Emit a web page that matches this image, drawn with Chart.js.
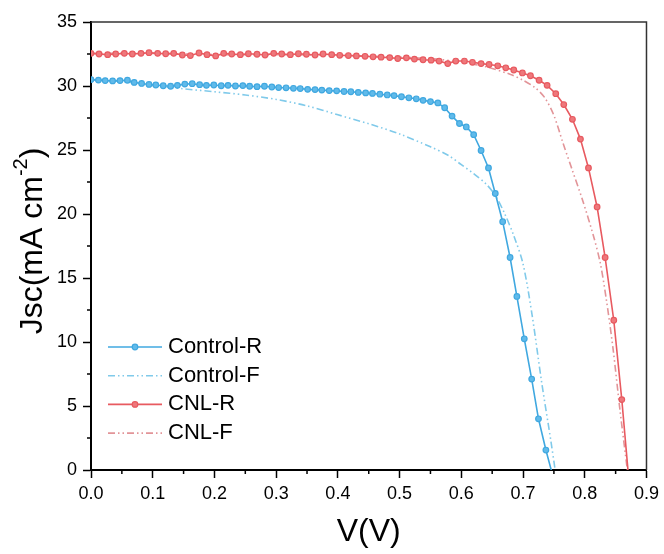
<!DOCTYPE html>
<html>
<head>
<meta charset="utf-8">
<script src="https://cdn.jsdelivr.net/npm/chart.js@4.4.0/dist/chart.umd.min.js"></script>
<style>
  body { margin: 0; background: #fff; }
  #wrap { width: 664px; height: 554px; }
</style>
</head>
<body>
<div id="wrap"><canvas id="ivChart"></canvas></div>
<script>
// J-V curves
const seriesNames = ['Control-R', 'Control-F', 'CNL-R', 'CNL-F'];

const vControlR = [0.000, 0.012, 0.023, 0.035, 0.047, 0.059, 0.070, 0.082, 0.094, 0.105,
  0.117, 0.129, 0.140, 0.152, 0.164, 0.176, 0.187, 0.199, 0.211, 0.222,
  0.234, 0.246, 0.257, 0.269, 0.281, 0.293, 0.304, 0.316, 0.328, 0.339,
  0.351, 0.363, 0.374, 0.386, 0.398, 0.410, 0.421, 0.433, 0.445, 0.456,
  0.468, 0.480, 0.491, 0.503, 0.515, 0.527, 0.538, 0.550, 0.562, 0.573,
  0.585, 0.597, 0.608, 0.620, 0.632, 0.644, 0.655, 0.667, 0.679, 0.690,
  0.702, 0.714, 0.725, 0.737, 0.749];
const jControlR = [30.50, 30.46, 30.42, 30.40, 30.42, 30.45, 30.28, 30.20, 30.12, 30.08,
  30.02, 29.98, 30.05, 30.15, 30.18, 30.10, 30.05, 30.08, 30.02, 30.05,
  30.00, 30.03, 29.98, 29.95, 29.98, 29.92, 29.88, 29.86, 29.82, 29.80,
  29.74, 29.72, 29.68, 29.64, 29.62, 29.57, 29.55, 29.50, 29.46, 29.42,
  29.36, 29.30, 29.25, 29.16, 29.08, 29.00, 28.88, 28.78, 28.68, 28.30,
  27.65, 27.07, 26.80, 26.20, 24.96, 23.60, 21.60, 19.40, 16.60, 13.56,
  10.25, 7.10, 4.00, 1.56, -0.60];

const vControlF = [0.000, 0.050, 0.100, 0.150, 0.200, 0.250, 0.300, 0.350, 0.400, 0.450,
  0.500, 0.550, 0.580, 0.600, 0.620, 0.640, 0.655, 0.670, 0.685, 0.700,
  0.715, 0.730, 0.745, 0.752];
const jControlF = [30.50, 30.35, 30.05, 29.78, 29.55, 29.30, 28.95, 28.45, 27.75, 27.05,
  26.25, 25.25, 24.55, 23.85, 23.15, 22.35, 21.45, 20.05, 18.30, 16.10,
  12.00, 6.90, 2.30, 0.00];

const vCnlR = [0.000, 0.013, 0.027, 0.040, 0.054, 0.067, 0.081, 0.094, 0.108, 0.121,
  0.134, 0.148, 0.161, 0.175, 0.188, 0.202, 0.215, 0.228, 0.242, 0.255,
  0.269, 0.282, 0.296, 0.309, 0.323, 0.336, 0.349, 0.363, 0.376, 0.390,
  0.403, 0.417, 0.430, 0.444, 0.457, 0.470, 0.484, 0.497, 0.511, 0.524,
  0.538, 0.551, 0.564, 0.578, 0.591, 0.605, 0.618, 0.632, 0.645, 0.659,
  0.672, 0.685, 0.699, 0.712, 0.726, 0.739, 0.753, 0.766, 0.780, 0.793,
  0.806, 0.820, 0.833, 0.847, 0.860, 0.874];
const jCnlR = [32.55, 32.50, 32.45, 32.50, 32.55, 32.50, 32.55, 32.60, 32.55, 32.52,
  32.55, 32.42, 32.38, 32.58, 32.45, 32.35, 32.55, 32.50, 32.45, 32.52,
  32.48, 32.42, 32.55, 32.50, 32.45, 32.52, 32.48, 32.42, 32.50, 32.45,
  32.40, 32.38, 32.35, 32.32, 32.28, 32.25, 32.22, 32.15, 32.20, 32.10,
  32.05, 32.02, 31.95, 31.75, 31.95, 31.95, 31.85, 31.75, 31.68, 31.58,
  31.42, 31.25, 31.02, 30.80, 30.45, 30.05, 29.40, 28.55, 27.40, 25.85,
  23.60, 20.55, 16.60, 11.70, 5.50, -2.20];

const vCnlF = [0.000, 0.100, 0.200, 0.300, 0.400, 0.500, 0.560, 0.600, 0.640, 0.680,
  0.700, 0.720, 0.735, 0.750, 0.765, 0.780, 0.797, 0.814, 0.825, 0.835,
  0.846, 0.857, 0.869];
const jCnlF = [32.55, 32.55, 32.45, 32.45, 32.40, 32.25, 32.10, 31.85, 31.50, 30.90,
  30.45, 29.85, 29.10, 27.70, 25.50, 23.40, 21.00, 18.30, 16.20, 13.30,
  9.40, 4.70, 0.00];

// axis ticks
const xMajorTicks = [0.0, 0.1, 0.2, 0.3, 0.4, 0.5, 0.6, 0.7, 0.8, 0.9];
const xMinorTicks = [0.05, 0.15, 0.25, 0.35, 0.45, 0.55, 0.65, 0.75, 0.85];
const yMajorTicks = [0, 5, 10, 15, 20, 25, 30, 35];
const yMinorTicks = [2.5, 7.5, 12.5, 17.5, 22.5, 27.5, 32.5];

const blueR = 'rgb(64,168,224)';
const blueF = 'rgb(128,202,234)';
const redR = 'rgb(232,90,96)';
const redF = 'rgb(226,148,152)';
const dashDotDot = [7, 3, 1.5, 3, 1.5, 3];
const fontFamily = '"Liberation Sans", Arial, sans-serif';

function pairUp(vs, js) {
  return vs.map((v, i) => ({ x: v, y: js[i] }));
}

function markerRadius(ctx) {
  return ctx.raw && ctx.raw.y > 0.3 ? 2.8 : 0;
}

const datasets = [
  {
    label: seriesNames[0], data: pairUp(vControlR, jControlR),
    borderColor: blueR, backgroundColor: blueR, borderWidth: 1.6,
    pointRadius: markerRadius, pointBackgroundColor: 'rgb(96,186,234)',
    pointBorderColor: blueR, pointBorderWidth: 1.2, order: 2
  },
  {
    label: seriesNames[1], data: pairUp(vControlF, jControlF),
    borderColor: blueF, backgroundColor: blueF, borderWidth: 1.6,
    borderDash: dashDotDot, pointRadius: 0, tension: 0.3, order: 3
  },
  {
    label: seriesNames[2], data: pairUp(vCnlR, jCnlR),
    borderColor: redR, backgroundColor: redR, borderWidth: 1.6,
    pointRadius: markerRadius, pointBackgroundColor: 'rgb(238,120,124)',
    pointBorderColor: redR, pointBorderWidth: 1.2, order: 0
  },
  {
    label: seriesNames[3], data: pairUp(vCnlF, jCnlF),
    borderColor: redF, backgroundColor: redF, borderWidth: 1.6,
    borderDash: dashDotDot, pointRadius: 0, tension: 0.3, order: 1
  }
];

// box, minor ticks, rotated y title with superscript, legend inside the plot
const decorPlugin = {
  id: 'decor',
  afterDraw(chart) {
    const ctx = chart.ctx;
    const area = chart.chartArea;
    const xs = chart.scales.x, ys = chart.scales.y;

    ctx.save();
    ctx.strokeStyle = '#333';
    ctx.lineWidth = 1.5;
    ctx.beginPath();
    ctx.moveTo(area.left, area.top);
    ctx.lineTo(area.right, area.top);
    ctx.lineTo(area.right, area.bottom);
    ctx.stroke();

    ctx.strokeStyle = '#000';
    ctx.lineWidth = 1.5;
    xMinorTicks.forEach(v => {
      const px = xs.getPixelForValue(v);
      ctx.beginPath();
      ctx.moveTo(px, area.bottom);
      ctx.lineTo(px, area.bottom + 4);
      ctx.stroke();
    });
    yMinorTicks.forEach(v => {
      const py = ys.getPixelForValue(v);
      ctx.beginPath();
      ctx.moveTo(area.left, py);
      ctx.lineTo(area.left - 4, py);
      ctx.stroke();
    });

    // y title
    const main = 'Jsc(mA cm', sup = '-2', close = ')';
    ctx.translate(33, (area.top + area.bottom) / 2 - 5);
    ctx.rotate(-Math.PI / 2);
    ctx.fillStyle = '#000';
    ctx.textBaseline = 'middle';
    ctx.font = '32px ' + fontFamily;
    const w1 = ctx.measureText(main).width;
    const w3 = ctx.measureText(close).width;
    ctx.font = '20px ' + fontFamily;
    const w2 = ctx.measureText(sup).width;
    let x0 = -(w1 + w2 + w3) / 2;
    ctx.font = '32px ' + fontFamily;
    ctx.textAlign = 'left';
    ctx.fillText(main, x0, 0);
    ctx.font = '20px ' + fontFamily;
    ctx.fillText(sup, x0 + w1, -12);
    ctx.font = '32px ' + fontFamily;
    ctx.fillText(close, x0 + w1 + w2, 0);
    ctx.restore();

    // legend
    ctx.save();
    const rowTop = area.bottom - 123;
    chart.data.datasets.forEach((ds, i) => {
      const y = rowTop + i * 28.7;
      const x1 = area.left + 17, x2 = area.left + 71;
      ctx.strokeStyle = ds.borderColor;
      ctx.lineWidth = 1.6;
      ctx.setLineDash(ds.borderDash || []);
      ctx.beginPath();
      ctx.moveTo(x1, y);
      ctx.lineTo(x2, y);
      ctx.stroke();
      ctx.setLineDash([]);
      if (ds.pointBackgroundColor) {
        ctx.fillStyle = ds.pointBackgroundColor;
        ctx.strokeStyle = ds.pointBorderColor;
        ctx.lineWidth = 1.2;
        ctx.beginPath();
        ctx.arc((x1 + x2) / 2, y, 2.8, 0, Math.PI * 2);
        ctx.fill();
        ctx.stroke();
      }
      ctx.fillStyle = '#000';
      ctx.font = '22px ' + fontFamily;
      ctx.textBaseline = 'middle';
      ctx.textAlign = 'left';
      ctx.fillText(ds.label, area.left + 77, y);
    });
    ctx.restore();
  }
};

const config = {
  type: 'line',
  data: { datasets: datasets },
  options: {
    responsive: true,
    maintainAspectRatio: false,
    animation: false,
    layout: { padding: { left: 0, top: 22, right: 17, bottom: 0 } },
    plugins: {
      legend: { display: false },
      tooltip: { enabled: false }
    },
    scales: {
      x: {
        type: 'linear',
        min: 0, max: 0.9,
        afterFit: function (scale) { scale.height = 84; },
        afterBuildTicks: function (scale) {
          scale.ticks = xMajorTicks.map(v => ({ value: v }));
        },
        ticks: {
          autoSkip: false, maxRotation: 0, padding: 5,
          color: '#000',
          font: { size: 18, family: fontFamily },
          callback: function (value) { return value.toFixed(1); }
        },
        grid: {
          drawOnChartArea: false, drawTicks: true,
          tickLength: 8, tickWidth: 1.5, tickColor: '#000'
        },
        border: { display: true, color: '#000', width: 2 },
        title: {
          display: true, text: 'V(V)', color: '#000',
          font: { size: 32, family: fontFamily },
          padding: { top: 0, bottom: 3 }
        }
      },
      y: {
        min: 0, max: 35,
        afterFit: function (scale) { scale.width = 91; },
        afterBuildTicks: function (scale) {
          scale.ticks = yMajorTicks.map(v => ({ value: v }));
        },
        ticks: {
          autoSkip: false, padding: 6,
          color: '#000',
          font: { size: 18, family: fontFamily }
        },
        grid: {
          drawOnChartArea: false, drawTicks: true,
          tickLength: 8, tickWidth: 1.5, tickColor: '#000'
        },
        border: { display: true, color: '#000', width: 2 }
      }
    }
  },
  plugins: [decorPlugin]
};

new Chart(document.getElementById('ivChart'), config);
</script>
</body>
</html>
